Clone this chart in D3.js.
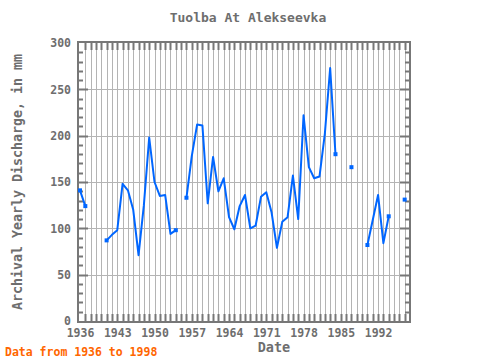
<!DOCTYPE html>
<html>
<head>
<meta charset="utf-8">
<script src="https://cdn.jsdelivr.net/npm/d3@7"></script>
<style>
  html, body { margin: 0; padding: 0; background: #fff; }
  svg { display: block; }
  text { font-family: "DejaVu Sans Mono", monospace; font-weight: bold; }
</style>
</head>
<body>
<svg id="chart" width="480" height="360"></svg>
<script>
const title = "Tuolba At Alekseevka";
const xLabel = "Date";
const yLabel = "Archival Yearly Discharge, in mm";
const footer = "Data from 1936 to 1998";

const years = [1936,1937,1938,1939,1940,1941,1942,1943,1944,1945,1946,1947,1948,1949,1950,
  1951,1952,1953,1954,1955,1956,1957,1958,1959,1960,1961,1962,1963,1964,1965,1966,1967,1968,
  1969,1970,1971,1972,1973,1974,1975,1976,1977,1978,1979,1980,1981,1982,1983,1984,1985,1986,
  1987,1988,1989,1990,1991,1992,1993,1994,1995,1996,1997];
const discharge = [141,124,null,null,null,87,93,98,148,141,120,71,125,198,150,
  135,136,94,98,null,133,178,212,211,127,177,140,154,112,99,124,136,100,
  103,134,139,117,79,107,112,157,110,222,166,154,156,202,273,180,null,null,
  166,null,null,82,109,136,84,113,null,null,131];

const xTicks = [1936,1943,1950,1957,1964,1971,1978,1985,1992];
const yTicks = [0,50,100,150,200,250,300];

const data = years.map((yr, i) => ({ year: yr, value: discharge[i] }));

const svg = d3.select("#chart");
const pL = 79, pR = 409, pT = 43, pB = 321;

const x = d3.scaleLinear().domain([1936, 1998]).range([80, 410]);
const y = d3.scaleLinear().domain([0, 300]).range([pB, pT]);

const gridColor = "#b4b4b4";
const frameColor = "#777777";
const textColor = "#6e6e6e";

// vertical gridlines every year
const allYears = d3.range(1937, 1998);
svg.append("g").selectAll("line").data(allYears).join("line")
  .attr("x1", d => Math.round(x(d)) + 0.5).attr("x2", d => Math.round(x(d)) + 0.5)
  .attr("y1", pT).attr("y2", pB)
  .attr("stroke", gridColor).attr("stroke-width", 1);

// horizontal gridlines
svg.append("g").selectAll("line").data(yTicks.filter(d => d > 0 && d < 300)).join("line")
  .attr("x1", pL).attr("x2", pR)
  .attr("y1", d => Math.round(y(d)) + 0.5).attr("y2", d => Math.round(y(d)) + 0.5)
  .attr("stroke", gridColor).attr("stroke-width", 1);

// frame
svg.append("rect")
  .attr("x", pL - 1).attr("y", pT - 1)
  .attr("width", pR - pL + 2).attr("height", pB - pT + 2)
  .attr("fill", "none").attr("stroke", frameColor).attr("stroke-width", 2);

// year ticks top and bottom
const tickYears = d3.range(1937, 1998);
const tg = svg.append("g").attr("stroke", frameColor).attr("stroke-width", 2);
tg.selectAll(".tb").data(tickYears).join("line").attr("class", "tb")
  .attr("x1", d => Math.round(x(d)) + 0.5).attr("x2", d => Math.round(x(d)) + 0.5)
  .attr("y1", pB).attr("y2", pB - 7);
tg.selectAll(".tt").data(tickYears).join("line").attr("class", "tt")
  .attr("x1", d => Math.round(x(d)) + 0.5).attr("x2", d => Math.round(x(d)) + 0.5)
  .attr("y1", pT).attr("y2", pT + 7);

// value ticks left and right
const minor = d3.range(10, 300, 10);
tg.selectAll(".tl").data(minor).join("line").attr("class", "tl")
  .attr("x1", pL).attr("x2", d => pL + (d % 50 === 0 ? 9 : 4))
  .attr("y1", d => Math.round(y(d)) + 0.5).attr("y2", d => Math.round(y(d)) + 0.5);
tg.selectAll(".tr").data(minor).join("line").attr("class", "tr")
  .attr("x1", pR).attr("x2", d => pR - (d % 50 === 0 ? 9 : 4))
  .attr("y1", d => Math.round(y(d)) + 0.5).attr("y2", d => Math.round(y(d)) + 0.5);

// axes labels via d3 axes (lines hidden)
const xAxis = svg.append("g").attr("transform", `translate(0,${pB})`)
  .call(d3.axisBottom(x).tickValues(xTicks).tickFormat(d3.format("d")).tickSize(0).tickPadding(8));
xAxis.select(".domain").remove();
xAxis.selectAll("text").attr("fill", textColor).style("font-size", "11.5px")
  .style("font-family", "DejaVu Sans Mono, monospace").style("font-weight", "bold");

const yAxis = svg.append("g").attr("transform", `translate(${pL - 8},0)`)
  .call(d3.axisLeft(y).tickValues(yTicks).tickSize(0).tickPadding(0));
yAxis.select(".domain").remove();
yAxis.selectAll("text").attr("fill", textColor).style("font-size", "11.5px")
  .style("font-family", "DejaVu Sans Mono, monospace").style("font-weight", "bold");

// line
const lineColor = "#0066ff";
const line = d3.line().defined(d => d.value !== null)
  .x(d => x(d.year)).y(d => y(d.value));
svg.append("path").datum(data)
  .attr("d", line).attr("fill", "none")
  .attr("stroke", lineColor).attr("stroke-width", 2).attr("stroke-linejoin", "round");

// markers at isolated points and segment ends
const marks = data.filter((d, i) => d.value !== null &&
  (i === 0 || data[i - 1].value === null || i === data.length - 1 || data[i + 1].value === null));
svg.append("g").selectAll("rect").data(marks).join("rect")
  .attr("x", d => x(d.year) - 2).attr("y", d => y(d.value) - 2)
  .attr("width", 4).attr("height", 4).attr("fill", lineColor);

// titles
svg.append("text").attr("x", 248).attr("y", 22).attr("text-anchor", "middle")
  .attr("fill", textColor).style("font-size", "13px").text(title);
svg.append("text").attr("x", 274).attr("y", 352).attr("text-anchor", "middle")
  .attr("fill", textColor).style("font-size", "13.5px").text(xLabel);
svg.append("text").attr("transform", "translate(22,182) rotate(-90)").attr("text-anchor", "middle")
  .attr("fill", textColor).style("font-size", "13.3px").text(yLabel);
svg.append("text").attr("x", 5).attr("y", 356)
  .attr("fill", "#ff6600").style("font-size", "11.5px").text(footer);
</script>
</body>
</html>
